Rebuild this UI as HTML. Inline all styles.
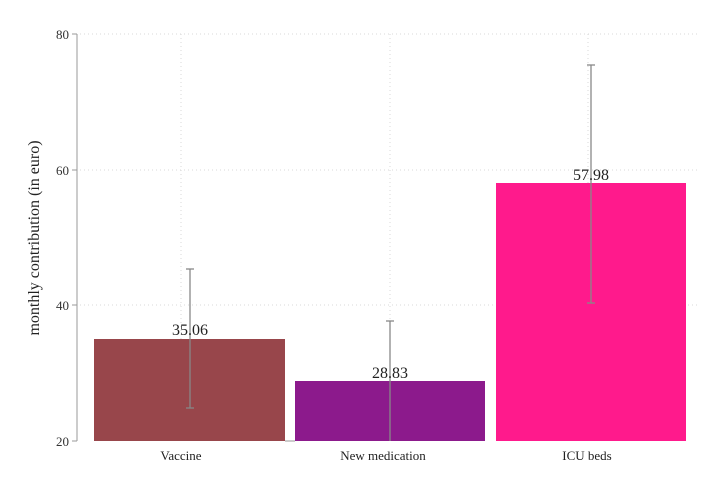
<!DOCTYPE html>
<html><head><meta charset="utf-8"><style>body{margin:0;background:#fff}</style></head><body>
<svg width="720" height="480" xmlns="http://www.w3.org/2000/svg" font-family="Liberation Serif, serif">
<rect width="720" height="480" fill="#fff"/>
<g stroke="#d8d8d8" stroke-width="1" stroke-dasharray="1,3">
<line x1="80" y1="34" x2="700" y2="34"/><line x1="80" y1="170" x2="700" y2="170"/><line x1="80" y1="305" x2="700" y2="305"/>
<line x1="181" y1="34" x2="181" y2="441"/><line x1="390" y1="34" x2="390" y2="441"/><line x1="588" y1="34" x2="588" y2="441"/>
</g>
<line x1="77" y1="34" x2="77" y2="441" stroke="#999"/>
<g stroke="#999"><line x1="72" y1="34" x2="77" y2="34"/><line x1="72" y1="170" x2="77" y2="170"/><line x1="72" y1="305" x2="77" y2="305"/><line x1="72" y1="441" x2="77" y2="441"/></g>
<g font-size="13" fill="#333" text-anchor="end"><text x="69" y="39">80</text><text x="69" y="175">60</text><text x="69" y="310">40</text><text x="69" y="446">20</text></g>
<text transform="translate(39,238) rotate(-90)" font-size="16" text-anchor="middle" fill="#222">monthly contribution (in euro)</text>
<rect x="94" y="339" width="191" height="102" fill="#98464b"/>
<rect x="295" y="381" width="190" height="60" fill="#8c1a8c"/>
<rect x="496" y="183" width="190" height="258" fill="#ff1a8c"/>
<line x1="285" y1="441" x2="295" y2="441" stroke="#999"/>
<g stroke="#888" stroke-width="1.3">
<line x1="190" y1="269" x2="190" y2="408"/><line x1="186" y1="269" x2="194" y2="269"/><line x1="186" y1="408" x2="194" y2="408"/>
<line x1="390" y1="321" x2="390" y2="441"/><line x1="386" y1="321" x2="394" y2="321"/>
<line x1="591" y1="65" x2="591" y2="303"/><line x1="587" y1="65" x2="595" y2="65"/><line x1="587" y1="303" x2="595" y2="303"/>
</g>
<g font-size="16" fill="#222" text-anchor="middle"><text x="190" y="335">35.06</text><text x="390" y="378">28.83</text><text x="591" y="180">57.98</text></g>
<g font-size="13" fill="#222" text-anchor="middle"><text x="181" y="460">Vaccine</text><text x="383" y="460">New medication</text><text x="587" y="460">ICU beds</text></g>
</svg>
</body></html>
